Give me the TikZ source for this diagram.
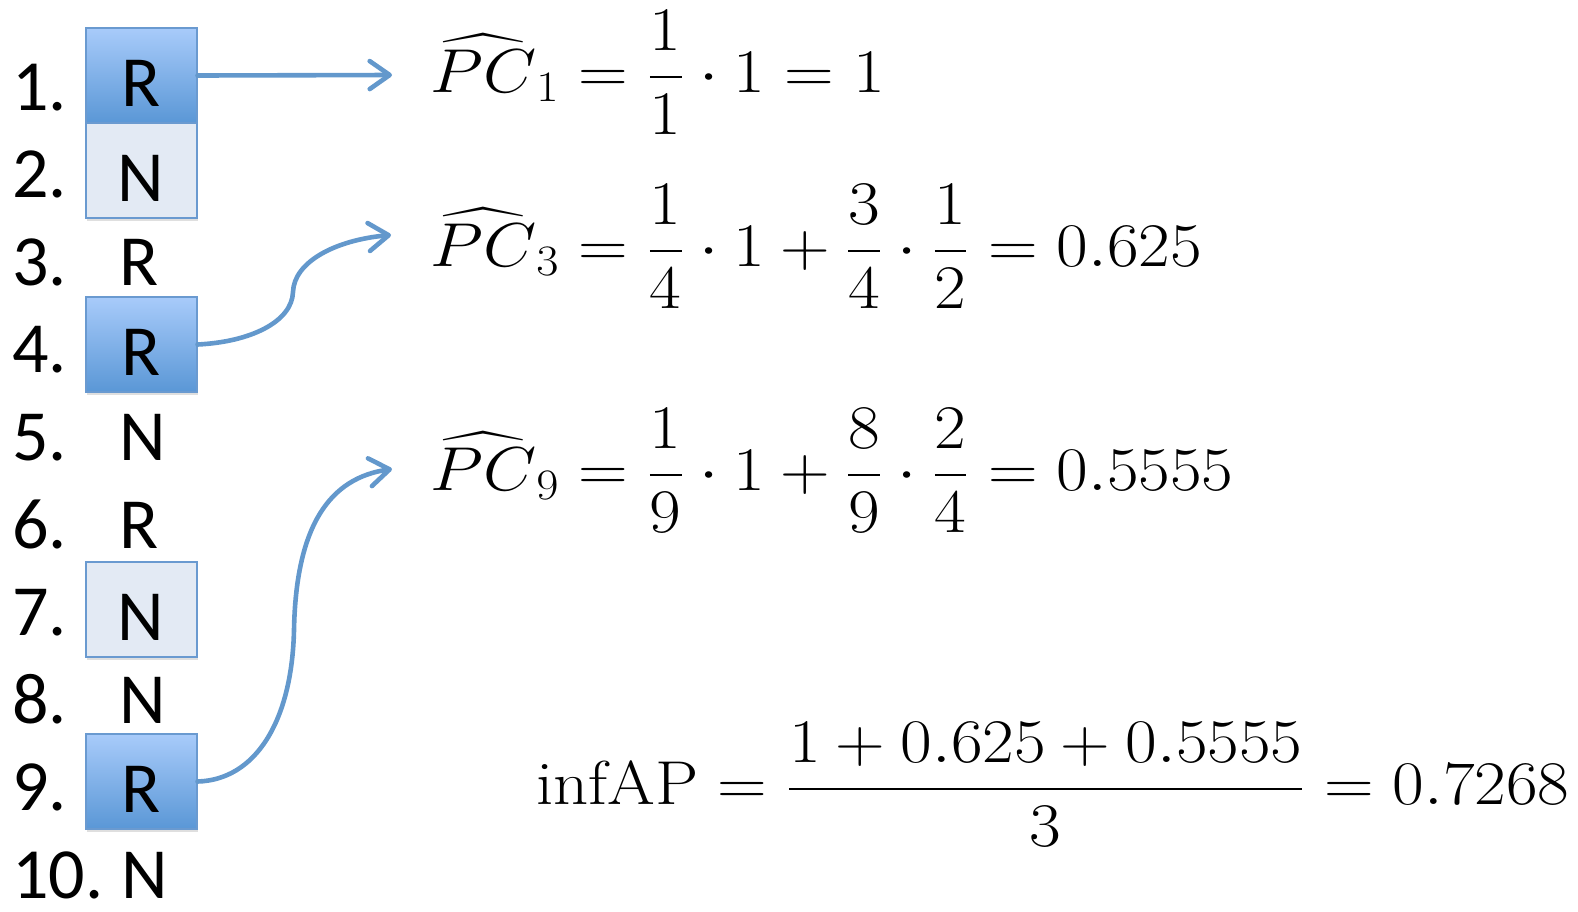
\RequirePackage{fix-cm}
\documentclass[tikz,border=0pt]{standalone}
\usepackage{amsmath}
\usepackage{fontspec}
\newfontfamily\listfont{Carlito}
\usetikzlibrary{arrows.meta,shadows}
\definecolor{relhi}{HTML}{A8CBFA}
\definecolor{rello}{HTML}{5A97D6}
\definecolor{boxc}{HTML}{6A9AD0}
\definecolor{nonfill}{HTML}{E3EAF4}
\definecolor{arrc}{HTML}{6398CC}
\newcommand{\wideeq}[1]{\scalebox{1.11}[1]{$\displaystyle #1$}}
\tikzset{
  rank/.style={anchor=base west,inner sep=0pt,font=\listfont\fontsize{36}{40}\selectfont},
  docbox/.style={anchor=base,draw=boxc,line width=1pt,inner sep=0pt,minimum width=55.5pt,
    text height=39pt,text depth=8.5pt,font=\listfont\fontsize{36}{40}\selectfont,
    drop shadow={shadow xshift=0.6pt,shadow yshift=-1.6pt,opacity=0.25}},
  relbox/.style={docbox,top color=relhi,bottom color=rello},
  nonbox/.style={docbox,fill=nonfill},
  ar/.style={-{Straight Barb[length=10pt,width=14pt,round]},line width=2.3pt,arrc,line cap=round},
  eqn/.style={anchor=base west,inner sep=0pt,font=\fontsize{31}{37}\selectfont}
}
\begin{document}
\begin{tikzpicture}[x=0.5pt,y=-0.5pt]
\useasboundingbox (0,0) rectangle (1578,911);
% rank numbers
\foreach \k in {1,...,10}
  \node[rank] (num\k) at (12,{110+87.6*(\k-1)}) {\k.};
% ranked documents
\node[relbox] (d1) at (141,106) {R};
\node[nonbox] (d2) at (141,201) {N};
\node[rank] (d3) at (119,285.2) {R};
\node[relbox] (d4) at (141,375) {R};
\node[rank] (d5) at (119,460.4) {N};
\node[rank] (d6) at (119,548) {R};
\node[nonbox] (d7) at (141,640) {N};
\node[rank] (d8) at (119,723.2) {N};
\node[relbox] (d9) at (141,812) {R};
\node[rank] (d10) at (121,898.4) {N};
% precision estimates
\node[eqn] (pc1) at (430,92) {\wideeq{\widehat{PC}_1 = \frac{1}{1}\cdot 1 = 1}};
\node[eqn] (pc3) at (430,266) {\wideeq{\widehat{PC}_3 = \frac{1}{4}\cdot 1 + \frac{3}{4}\cdot\frac{1}{2} = 0.625}};
\node[eqn] (pc9) at (430,490) {\wideeq{\widehat{PC}_9 = \frac{1}{9}\cdot 1 + \frac{8}{9}\cdot\frac{2}{4} = 0.5555}};
\node[eqn] (iap) at (536,804) {\wideeq{\mathrm{infAP} = \frac{1+0.625+0.5555}{3} = 0.7268}};
% arrows
\coordinate (t1) at (392,75);
\coordinate (t3) at (391,235);
\coordinate (t9) at (392,469);
\draw[ar] (d1.east) -- (t1);
\draw[ar] (d4.east) .. controls (250,342) and (292,322) .. (293,292) .. controls (294,262) and (335,240) .. (t3);
\draw[ar] (d9.east) .. controls (255,780) and (292,722) .. (294,630) .. controls (296,525) and (330,478) .. (t9);
\end{tikzpicture}
\end{document}
